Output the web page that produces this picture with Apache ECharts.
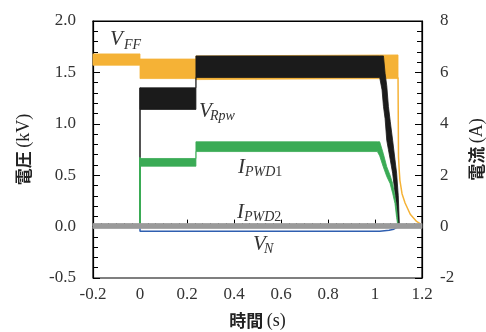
<!DOCTYPE html>
<html>
<head>
<meta charset="utf-8">
<script src="https://cdn.jsdelivr.net/npm/echarts@6/dist/echarts.min.js"></script>
<style>
html,body{margin:0;padding:0;background:#fff}
#chart{width:486px;height:332px}
</style>
</head>
<body>
<div id="chart"></div>
<script>
// tick labels
var xLabels = ['-0.2', '0', '0.2', '0.4', '0.6', '0.8', '1', '1.2'];
var kvLabels = ['-0.5', '0.0', '0.5', '1.0', '1.5', '2.0'];
var aLabels = ['-2', '0', '2', '4', '6', '8'];

// V_FF (kV): noisy band lower / upper edge, then the thin decay after cut-off
var vffT  = [-0.2, 0, 0, 0.238, 0.238, 1.098];
var vffLo = [1.57, 1.57, 1.44, 1.44, 1.43, 1.44];
var vffHi = [1.68, 1.68, 1.63, 1.63, 1.66, 1.67];
var vffTailT = [1.098, 1.100, 1.103, 1.106, 1.115, 1.128, 1.15, 1.177, 1.198];
var vffTailV = [1.45, 0.68, 0.55, 0.45, 0.32, 0.23, 0.12, 0.05, 0.02];

// V_Rpw (kV)
var rpwT  = [0, 0.238, 0.238, 1.02, 1.03, 1.036, 1.043, 1.05, 1.057, 1.065, 1.075, 1.085, 1.092, 1.099, 1.104];
var rpwLo = [1.14, 1.14, 1.45, 1.45, 1.33, 1.17, 1.05, 0.84, 0.75, 0.65, 0.52, 0.33, 0.20, 0, 0];
var rpwHi = [1.35, 1.35, 1.66, 1.66, 1.66, 1.66, 1.49, 1.37, 1.17, 1.02, 0.84, 0.65, 0.52, 0.30, 0];
var rpwLineT = [-0.2, 0, 0];
var rpwLineV = [0, 0, 1.35];

// I_PWD1 (A)
var pwd1T  = [0, 0.238, 0.238, 1.01, 1.02, 1.035, 1.05, 1.064, 1.075, 1.085, 1.092, 1.098];
var pwd1Lo = [2.35, 2.35, 2.92, 2.92, 2.75, 2.33, 1.95, 1.68, 1.30, 0.90, 0.35, 0];
var pwd1Hi = [2.65, 2.65, 3.30, 3.30, 3.30, 2.85, 2.33, 2.00, 1.68, 1.16, 0.70, 0.10];
var pwd1LineT = [-0.2, 0, 0];
var pwd1LineV = [0, 0, 2.7];
var pwd1TailT = [1.098, 1.2];
var pwd1TailV = [0, 0];

// I_PWD2 (A)
var pwd2T  = [-0.2, 1.2];
var pwd2Lo = [-0.07, -0.07];
var pwd2Hi = [0.12, 0.12];

// V_N (kV)
var vnT = [-0.2, 0, 0, 1.02, 1.06, 1.08, 1.1, 1.2];
var vnV = [0, 0, -0.045, -0.045, -0.035, -0.025, 0, 0];

function pairs(t, v) {
    return t.map(function (x, i) { return [x, v[i]]; });
}

function line(t, v, yIdx, color, width, z) {
    return {
        type: 'line', yAxisIndex: yIdx, data: pairs(t, v), symbol: 'none',
        lineStyle: { color: color, width: width }, z: z, silent: true, animation: false
    };
}

// noisy trace drawn as a filled band between its lower and upper edge
function band(t, lo, hi, yIdx, color, z) {
    return {
        type: 'custom', coordinateSystem: 'cartesian2d', yAxisIndex: yIdx,
        data: [[t[0], lo[0]]], z: z, silent: true, animation: false,
        renderItem: function (params, api) {
            var pts = [];
            for (var i = 0; i < t.length; i++) pts.push(api.coord([t[i], hi[i]]));
            for (var j = t.length - 1; j >= 0; j--) pts.push(api.coord([t[j], lo[j]]));
            return {
                type: 'polygon', shape: { points: pts },
                style: { fill: color, stroke: color, lineWidth: 0.8 }
            };
        }
    };
}

var orange = '#f5b236', black = '#1b1b1b', green = '#3aab55', grey = '#9a9a9a', blue = '#2f5fb0';

var series = [
    band(vffT, vffLo, vffHi, 0, orange, 2),
    line(vffTailT, vffTailV, 0, orange, 1.5, 2),
    band(rpwT, rpwLo, rpwHi, 0, black, 3),
    line(rpwLineT, rpwLineV, 0, black, 1.5, 3),
    band(pwd1T, pwd1Lo, pwd1Hi, 1, green, 4),
    line(pwd1LineT, pwd1LineV, 1, green, 2, 4),
    line(pwd1TailT, pwd1TailV, 1, green, 2, 4),
    line(vnT, vnV, 0, blue, 1.5, 5),
    band(pwd2T, pwd2Lo, pwd2Hi, 1, grey, 6)
];

var labelFont = 'Liberation Serif';
var tickStyle = { fontFamily: labelFont, fontSize: 17, color: '#333' };
var nameRich = {
    a: { fontFamily: 'Noto Sans CJK JP', fontWeight: 'bold', fontSize: 17, color: '#222' },
    b: { fontFamily: labelFont, fontSize: 18, color: '#222' }
};

function txt(x, y, s, size, italic) {
    return {
        type: 'text', x: x, y: y, silent: true, z: 100,
        style: {
            text: s, fill: '#333', align: 'left', verticalAlign: 'middle',
            font: (italic ? 'italic ' : '') + size + 'px "Liberation Serif"'
        }
    };
}

function sub(x, y, s, d) {
    return {
        type: 'text', x: x, y: y, silent: true, z: 100,
        style: {
            text: '{i|' + s + '}{n|' + d + '}', verticalAlign: 'middle', fill: '#333',
            rich: {
                i: { fontFamily: labelFont, fontStyle: 'italic', fontSize: 14, fill: '#333' },
                n: { fontFamily: labelFont, fontSize: 14, fill: '#333' }
            }
        }
    };
}

var option = {
    backgroundColor: '#fff',
    animation: false,
    grid: {
        left: 93, right: 64, top: 21, bottom: 54, outerBoundsMode: 'none', containLabel: false,
        show: true, borderColor: '#000', borderWidth: 1.2
    },
    xAxis: [
        {
            type: 'value', min: -0.2, max: 1.2, interval: 0.2,
            axisLine: { lineStyle: { color: '#000', width: 1.2 } },
            axisTick: { inside: true, length: 7, lineStyle: { color: '#000' } },
            minorTick: { show: true, splitNumber: 6, length: 3.5, lineStyle: { color: '#000' } },
            splitLine: { show: false },
            axisLabel: Object.assign({ margin: 8, formatter: function (v, i) { return xLabels[i]; } }, tickStyle),
            name: '{a|時間} {b|(s)}', nameLocation: 'middle', nameGap: 34,
            nameTextStyle: { rich: nameRich }
        },
        {
            type: 'value', position: 'top', min: -0.2, max: 1.2,
            axisLine: { show: true, onZero: false, lineStyle: { color: '#000', width: 1.2 } },
            axisTick: { show: false }, axisLabel: { show: false }, splitLine: { show: false }
        }
    ],
    yAxis: [
        {
            type: 'value', min: -0.5, max: 2.0, interval: 0.5,
            axisLine: { show: true, onZero: false, lineStyle: { color: '#000', width: 1.2 } },
            axisTick: { inside: true, length: 7, lineStyle: { color: '#000' } },
            minorTick: { show: true, splitNumber: 5, length: 5, lineStyle: { color: '#000' } },
            splitLine: { show: false },
            axisLabel: Object.assign({ margin: 17, formatter: function (v, i) { return kvLabels[i]; } }, tickStyle),
            name: '{a|電圧} {b|(kV)}', nameLocation: 'middle', nameGap: 60,
            nameTextStyle: { rich: nameRich }
        },
        {
            type: 'value', position: 'right', min: -2, max: 8, interval: 2,
            axisLine: { show: true, onZero: false, lineStyle: { color: '#000', width: 1.2 } },
            axisTick: { inside: true, length: 7, lineStyle: { color: '#000' } },
            minorTick: { show: true, splitNumber: 5, length: 5, lineStyle: { color: '#000' } },
            splitLine: { show: false },
            axisLabel: Object.assign({ margin: 18, formatter: function (v, i) { return aLabels[i]; } }, tickStyle),
            name: '{a|電流} {b|(A)}', nameLocation: 'middle', nameGap: 46,
            nameTextStyle: { rich: nameRich }
        }
    ],
    graphic: [
        txt(110, 39, 'V', 21, true), txt(124, 45, 'FF', 14, true),
        txt(199, 111, 'V', 21, true), txt(210, 116, 'Rpw', 14, true),
        txt(238, 167, 'I', 21, true), sub(245, 172.5, 'PWD', '1'),
        txt(237, 212, 'I', 21, true), sub(244, 217, 'PWD', '2'),
        txt(253, 244, 'V', 21, true), txt(264, 249.5, 'N', 14, true)
    ],
    series: series
};

var myChart = echarts.init(document.getElementById('chart'), null, { renderer: 'canvas' });
myChart.setOption(option);
</script>
</body>
</html>
